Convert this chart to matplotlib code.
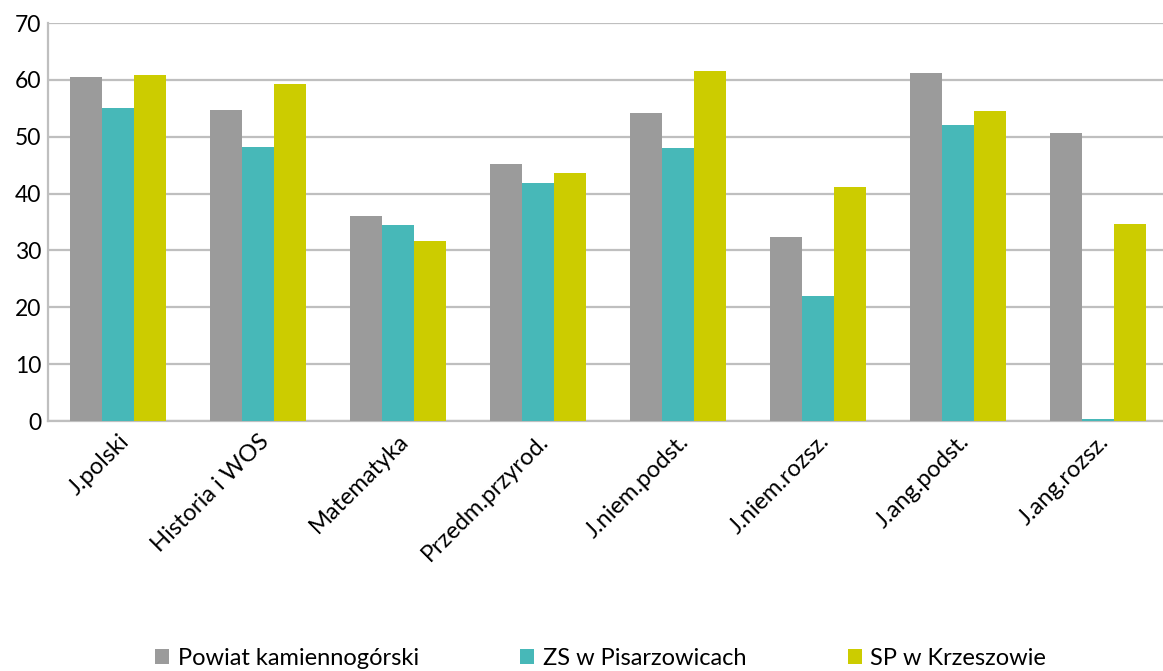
import matplotlib.pyplot as plt
import numpy as np

plt.rcParams['font.family'] = ['Lato', 'DejaVu Sans']

categories = ['J.polski', 'Historia i WOS', 'Matematyka', 'Przedm.przyrod.',
              'J.niem.podst.', 'J.niem.rozsz.', 'J.ang.podst.', 'J.ang.rozsz.']
series_names = ['Powiat kamiennogórski', 'ZS w Pisarzowicach', 'SP w Krzeszowie']
powiat = [60.5, 54.7, 36.0, 45.2, 54.2, 32.4, 61.2, 50.6]
zs_pisarzowice = [55.0, 48.2, 34.5, 41.9, 48.0, 22.0, 52.1, 0.3]
sp_krzeszow = [60.8, 59.3, 31.6, 43.6, 61.5, 41.2, 54.5, 34.6]
yticks = [0, 10, 20, 30, 40, 50, 60, 70]

colors = ['#9b9b9b', '#47b8b8', '#cccc00']

fig = plt.figure(figsize=(11.63, 6.71), dpi=100)
ax = fig.add_axes([48 / 1163, 1 - 421 / 671, 1 - 48 / 1163, 398 / 671])

x = np.arange(len(categories))
bar_w = 0.229
for idx, (name, vals) in enumerate(zip(series_names, [powiat, zs_pisarzowice, sp_krzeszow])):
    ax.bar(x + (idx - 1) * bar_w, vals, bar_w, color=colors[idx], label=name, zorder=3)

ax.set_ylim(0, 70)
ax.set_yticks(yticks)
ax.set_xlim(-0.5, 7.5 - 5 / 140)
ax.set_xticks(x)
ax.set_xticklabels(categories, rotation=45, ha='right', rotation_mode='anchor', fontsize=17)
ax.tick_params(axis='y', labelsize=16.5, length=0, pad=5)
ax.tick_params(axis='x', length=0, pad=7)
ax.grid(True, axis='y', color='#bfbfbf', linewidth=1.6, zorder=0)

for side in ['top', 'right']:
    ax.spines[side].set_visible(False)
for side in ['left', 'bottom']:
    ax.spines[side].set_color('#bfbfbf')
    ax.spines[side].set_linewidth(1.6)

fig.legend(loc='lower left', bbox_to_anchor=(134 / 1163, -0.028), ncol=3, frameon=False,
           fontsize=17, handlelength=0.6, handleheight=0.6, handletextpad=0.35,
           columnspacing=4.3)

fig.savefig('out.png', dpi=100)
plt.close(fig)
